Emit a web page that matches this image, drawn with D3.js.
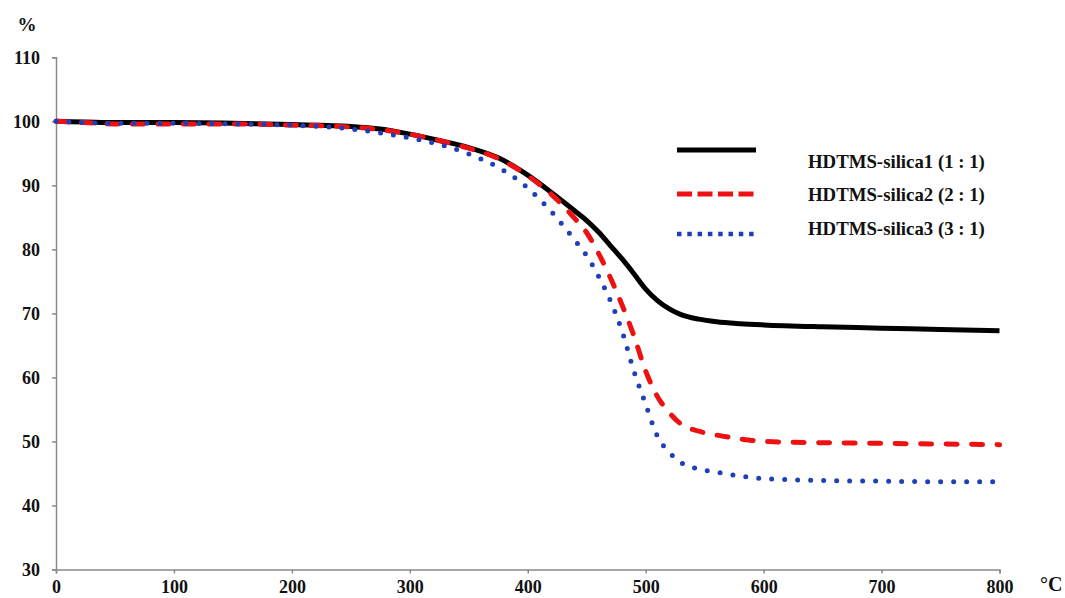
<!DOCTYPE html>
<html>
  <head>
  <title>TGA</title>
  <style>
    body, html { margin: 0; padding: 0; background: #fff; }
    text { font-family: "Liberation Serif", "Times New Roman", serif; font-weight: bold; }
  </style>
  </head>
  <body>
  <svg id="svg" width="1065" height="598"></svg>
  <script src="https://d3js.org/d3.v7.min.js"></script>
  <script>
    const temps = [0, 25, 50, 100, 150, 200, 250, 275, 300, 325, 350, 375, 400, 420, 440, 450, 460, 470, 480, 490, 500, 510, 520, 530, 545, 560, 580, 600, 650, 700, 750, 800]
    const silica1 = [100, 99.9, 99.8, 99.8, 99.7, 99.5, 99.2, 98.8, 98.0, 97.0, 95.9, 94.3, 91.6, 88.9, 86.0, 84.5, 82.7, 80.6, 78.5, 76.2, 73.8, 72.0, 70.7, 69.8, 69.1, 68.7, 68.4, 68.2, 67.9, 67.7, 67.5, 67.3]
    const silica2 = [100, 99.8, 99.6, 99.6, 99.6, 99.4, 99.1, 98.7, 98.0, 97.0, 95.8, 94.2, 91.5, 88.6, 84.8, 82.6, 79.4, 75.6, 71.3, 66.5, 61.0, 57.0, 54.5, 52.7, 51.6, 51.0, 50.4, 50.0, 49.8, 49.7, 49.6, 49.5]
    const silica3 = [100, 99.8, 99.7, 99.7, 99.6, 99.4, 98.8, 98.2, 97.4, 96.4, 94.9, 92.8, 89.6, 85.9, 81.4, 79.0, 75.8, 72.0, 67.2, 61.0, 55.8, 50.8, 48.3, 46.7, 45.7, 45.2, 44.6, 44.2, 43.9, 43.8, 43.7, 43.7]
    const seriesNames = ['HDTMS-silica1 (1 : 1)', 'HDTMS-silica2 (2 : 1)', 'HDTMS-silica3 (3 : 1)']
    const xTicks = [0, 100, 200, 300, 400, 500, 600, 700, 800]
    const yTicks = [30, 40, 50, 60, 70, 80, 90, 100, 110]

    const series = [
      { name: seriesNames[0], values: silica1, color: '#000000', dash: null, cap: 'butt' },
      { name: seriesNames[1], values: silica2, color: '#ee1111', dash: '11,14.5', cap: 'round' },
      { name: seriesNames[2], values: silica3, color: '#1f3fb8', dash: '0,13', cap: 'round' }
    ]

    const svg = d3.select('#svg')
    const axisColor = '#8a8a8a'

    const xscale = d3.scaleLinear().domain([0, 800]).range([56, 999.5])
    const yscale = d3.scaleLinear().domain([30, 110]).range([569.5, 57.3])

    // axes
    const bottomAxis = d3.axisBottom(xscale).tickValues(xTicks).tickSize(4).tickPadding(10)
    const xg = svg.append('g')
      .attr('transform', `translate(0, ${yscale(30)})`)
      .call(bottomAxis)
    xg.select('.domain').attr('stroke', axisColor).attr('stroke-width', 1.5)
    xg.selectAll('.tick line').attr('stroke', axisColor).attr('stroke-width', 1.5)
    xg.selectAll('.tick text').attr('fill', '#111').style('font-size', '18px')
      .attr('y', 17).attr('dy', '0.35em')

    const leftAxis = d3.axisLeft(yscale).tickValues(yTicks).tickSize(4).tickPadding(12)
    const yg = svg.append('g')
      .attr('transform', `translate(${xscale(0)}, 0)`)
      .call(leftAxis)
    yg.select('.domain').attr('stroke', axisColor).attr('stroke-width', 1.5)
    yg.selectAll('.tick line').attr('stroke', axisColor).attr('stroke-width', 1.5)
    yg.selectAll('.tick text').attr('fill', '#111').style('font-size', '18px')

    svg.append('text').attr('x', 27).attr('y', 31).attr('text-anchor', 'middle')
      .style('font-size', '19px').attr('fill', '#111').text('%')
    svg.append('text').attr('x', 1040).attr('y', 591)
      .style('font-size', '20px').attr('fill', '#111').text('°C')

    // curves
    const line = d3.line()
      .x((d, i) => xscale(temps[i]))
      .y(d => yscale(d))
      .curve(d3.curveMonotoneX)

    svg.append('g').selectAll('path')
      .data(series)
      .enter()
      .append('path')
      .attr('d', d => line(d.values))
      .attr('fill', 'none')
      .attr('stroke', d => d.color)
      .attr('stroke-width', 5)
      .attr('stroke-dasharray', d => d.dash)
      .attr('stroke-linecap', d => d.cap)

    // legend
    const legendY = [150, 194, 234]
    const legendDash = [null, '15,5.5', '4.5,5.8']
    const leg = svg.append('g')
    leg.selectAll('line')
      .data(series)
      .enter()
      .append('line')
      .attr('x1', 677).attr('x2', 756)
      .attr('y1', (d, i) => legendY[i]).attr('y2', (d, i) => legendY[i])
      .attr('stroke', d => d.color)
      .attr('stroke-width', (d, i) => i === 2 ? 4.5 : 5)
      .attr('stroke-dasharray', (d, i) => legendDash[i])
    leg.selectAll('text')
      .data(series)
      .enter()
      .append('text')
      .attr('x', 808)
      .attr('y', (d, i) => [168, 201, 235][i])
      .style('font-size', '18.8px')
      .attr('fill', '#111')
      .text(d => d.name)
  </script>
  </body>
</html>
